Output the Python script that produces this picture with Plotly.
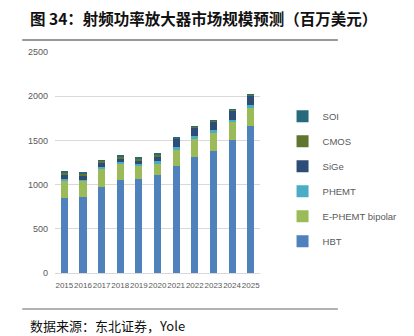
import plotly.graph_objects as go

years = ["2015", "2016", "2017", "2018", "2019", "2020", "2021", "2022", "2023", "2024", "2025"]
hbt = [848, 864, 969, 1052, 1067, 1110, 1210, 1309, 1380, 1501, 1660]
ephemt = [193, 177, 215, 181, 143, 123, 186, 203, 212, 204, 211]
phemt = [19, 15, 12, 19, 27, 30, 33, 34, 22, 30, 26]
sige = [45, 49, 48, 45, 37, 60, 87, 99, 99, 98, 110]
cmos = [34, 19, 27, 19, 19, 19, 11, 7, 11, 11, 7]
soi = [11, 11, 7, 11, 12, 8, 4, 8, 3, 4, 8]

series = [
    ("HBT", hbt, "#4F81BD"),
    ("E-PHEMT bipolar", ephemt, "#9BBB59"),
    ("PHEMT", phemt, "#4BACC6"),
    ("SiGe", sige, "#2C4D75"),
    ("CMOS", cmos, "#5F7530"),
    ("SOI", soi, "#276A7C"),
]

SANS = "Liberation Sans, Arial, sans-serif"

fig = go.Figure()
n = len(series)
for i, (name, vals, color) in enumerate(series):
    fig.add_trace(go.Bar(
        x=years, y=vals, name=name, legendgroup=name, legendrank=n - i,
        marker=dict(color=color, line=dict(width=0)),
    ))

fig.update_layout(
    width=414, height=336,
    barmode="stack",
    bargap=0.62,
    paper_bgcolor="white", plot_bgcolor="white",
    margin=dict(l=55, r=111, t=52, b=63),
    font=dict(family=SANS, size=9, color="#595959"),
    showlegend=True,
    legend=dict(
        traceorder="grouped", tracegroupgap=6,
        x=1.11, xanchor="left", y=0.775, yanchor="top",
        font=dict(family=SANS, size=9.5, color="#595959"),
        itemwidth=30, bgcolor="rgba(0,0,0,0)",
    ),
    xaxis=dict(
        type="category", showgrid=False, showline=True, linecolor="#D9D9D9",
        linewidth=1, ticks="", tickangle=0, ticklabelstandoff=4,
        tickfont=dict(family=SANS, size=8, color="#595959"),
    ),
    yaxis=dict(
        range=[0, 2500], dtick=500, showgrid=True, gridcolor="#D9D9D9",
        gridwidth=1, zeroline=False, showline=False, ticks="",
        tickfont=dict(family=SANS, size=9, color="#595959"), ticklabelstandoff=6,
    ),
    shapes=[
        dict(type="line", xref="paper", yref="paper", x0=-0.16, x1=1.38, y0=1.0 + 12/221, y1=1.0 + 12/221,
             line=dict(color="#333333", width=1.2)),
        dict(type="line", xref="paper", yref="paper", x0=-0.16, x1=1.38, y0=-36/221, y1=-36/221,
             line=dict(color="#999999", width=1.5)),
    ],
    annotations=[
        dict(text="<b>图 34：射频功率放大器市场规模预测（百万美元）</b>", xref="paper", yref="paper",
             x=-0.13, y=1.0 + 34/221, xanchor="left", yanchor="middle", showarrow=False,
             font=dict(family="Noto Sans CJK SC", size=15.5, color="#111111")),
        dict(text="数据来源：东北证券，Yole", xref="paper", yref="paper",
             x=-0.13, y=-52/221, xanchor="left", yanchor="middle", showarrow=False,
             font=dict(family="Noto Sans CJK SC", size=13, color="#111111")),
    ],
)

fig.write_html("out.html")
